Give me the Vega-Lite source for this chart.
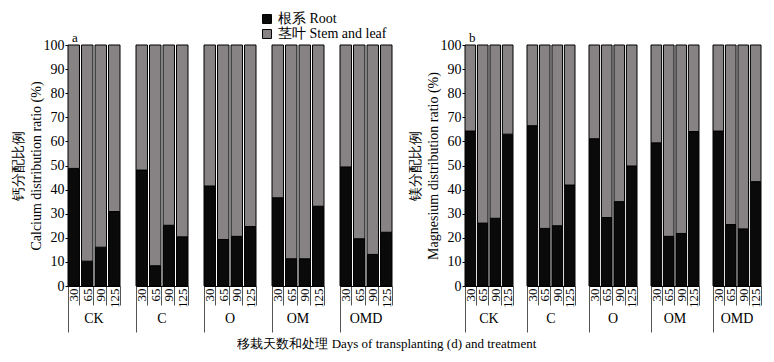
{
  "$schema": "https://vega.github.io/schema/vega-lite/v6.json",
  "background": "white",
  "padding": {"left": 11, "top": 12, "right": 4, "bottom": 5},
  "config": {
    "font": "Liberation Serif",
    "view": {"stroke": null},
    "axis": {"labelColor": "black", "titleColor": "black", "domainColor": "black", "tickColor": "black", "grid": false, "titleFontWeight": "normal"},
    "header": {"labelColor": "black"},
    "legend": {"labelColor": "black"}
  },
  "datasets": {
    "ca": [
      {"g": "CK", "d": "30", "root": 48.8, "stem": 51.2},
      {"g": "CK", "d": "65", "root": 10.3, "stem": 89.7},
      {"g": "CK", "d": "90", "root": 16.1, "stem": 83.9},
      {"g": "CK", "d": "125", "root": 30.9, "stem": 69.1},
      {"g": "C", "d": "30", "root": 48.1, "stem": 51.9},
      {"g": "C", "d": "65", "root": 8.4, "stem": 91.6},
      {"g": "C", "d": "90", "root": 25.2, "stem": 74.8},
      {"g": "C", "d": "125", "root": 20.4, "stem": 79.6},
      {"g": "O", "d": "30", "root": 41.5, "stem": 58.5},
      {"g": "O", "d": "65", "root": 19.3, "stem": 80.7},
      {"g": "O", "d": "90", "root": 20.6, "stem": 79.4},
      {"g": "O", "d": "125", "root": 24.7, "stem": 75.3},
      {"g": "OM", "d": "30", "root": 36.6, "stem": 63.4},
      {"g": "OM", "d": "65", "root": 11.3, "stem": 88.7},
      {"g": "OM", "d": "90", "root": 11.3, "stem": 88.7},
      {"g": "OM", "d": "125", "root": 33.1, "stem": 66.9},
      {"g": "OMD", "d": "30", "root": 49.4, "stem": 50.6},
      {"g": "OMD", "d": "65", "root": 19.6, "stem": 80.4},
      {"g": "OMD", "d": "90", "root": 13.1, "stem": 86.9},
      {"g": "OMD", "d": "125", "root": 22.3, "stem": 77.7}
    ],
    "mg": [
      {"g": "CK", "d": "30", "root": 64.3, "stem": 35.7},
      {"g": "CK", "d": "65", "root": 26.1, "stem": 73.9},
      {"g": "CK", "d": "90", "root": 28.1, "stem": 71.9},
      {"g": "CK", "d": "125", "root": 63.0, "stem": 37.0},
      {"g": "C", "d": "30", "root": 66.5, "stem": 33.5},
      {"g": "C", "d": "65", "root": 23.9, "stem": 76.1},
      {"g": "C", "d": "90", "root": 25.0, "stem": 75.0},
      {"g": "C", "d": "125", "root": 41.9, "stem": 58.1},
      {"g": "O", "d": "30", "root": 61.1, "stem": 38.9},
      {"g": "O", "d": "65", "root": 28.4, "stem": 71.6},
      {"g": "O", "d": "90", "root": 35.0, "stem": 65.0},
      {"g": "O", "d": "125", "root": 49.8, "stem": 50.2},
      {"g": "OM", "d": "30", "root": 59.4, "stem": 40.6},
      {"g": "OM", "d": "65", "root": 20.6, "stem": 79.4},
      {"g": "OM", "d": "90", "root": 21.8, "stem": 78.2},
      {"g": "OM", "d": "125", "root": 64.1, "stem": 35.9},
      {"g": "OMD", "d": "30", "root": 64.3, "stem": 35.7},
      {"g": "OMD", "d": "65", "root": 25.5, "stem": 74.5},
      {"g": "OMD", "d": "90", "root": 23.7, "stem": 76.3},
      {"g": "OMD", "d": "125", "root": 43.3, "stem": 56.7}
    ]
  },
  "title": {"text": "移栽天数和处理 Days of transplanting (d) and treatment", "orient": "bottom", "anchor": "middle", "fontSize": 13, "fontWeight": "normal", "color": "black", "offset": 5},
  "spacing": 14,
  "resolve": {"scale": {"color": "shared"}},
  "hconcat": [
    {
      "data": {"name": "ca"},
      "transform": [{"fold": ["root", "stem"], "as": ["part", "value"]}],
      "title": {"text": "a", "anchor": "start", "frame": "group", "fontSize": 13, "fontWeight": "normal", "color": "black", "offset": -7, "dx": 4},
      "facet": {"column": {"field": "g", "type": "nominal", "sort": ["CK", "C", "O", "OM", "OMD"], "header": {"labelOrient": "bottom", "title": null, "labelFontSize": 14, "labelPadding": -21, "labelFont": "Liberation Serif"}}},
      "spacing": 16,
      "bounds": "flush",
      "spec": {
        "width": 52,
        "height": 241,
        "mark": {"type": "bar", "stroke": "black", "strokeWidth": 1},
        "encoding": {
          "x": {"field": "d", "type": "ordinal", "sort": ["30", "65", "90", "125"], "scale": {"paddingInner": 0.15, "paddingOuter": 0},
            "axis": {"title": null, "labelAngle": 270, "labelAlign": "right", "labelBaseline": "middle", "labelFontSize": 13, "labelPadding": -17, "tickBand": "extent", "tickSize": {"condition": {"test": "datum.extra", "value": 46}, "value": 19}, "tickColor": "#555", "domain": true}},
          "y": {"field": "value", "type": "quantitative", "stack": "zero", "scale": {"domain": [0, 100]},
            "axis": {"title": ["钙分配比例", "Calcium distribution ratio (%)"], "titleFontSize": 14, "titleLineHeight": 18, "titleFontWeight": "normal", "titlePadding": 0, "values": [0,10,20,30,40,50,60,70,80,90,100], "labelOverlap": false, "labelFontSize": 14, "tickSize": 3, "labelPadding": 1}},
          "color": {"field": "part", "type": "nominal", "sort": ["root", "stem"], "scale": {"domain": ["root", "stem"], "range": ["#0a0a0a", "#878384"]},
            "legend": {"title": null, "orient": "none", "legendX": 192, "legendY": -33, "symbolType": "square", "symbolSize": 80, "symbolStrokeColor": "black", "symbolStrokeWidth": 1, "labelFontSize": 14, "rowPadding": 1, "labelExpr": "datum.label == 'root' ? '根系 Root' : '茎叶 Stem and leaf'"}},
          "order": {"field": "part", "sort": "ascending"}
        }
      }
    },
    {
      "data": {"name": "mg"},
      "transform": [{"fold": ["root", "stem"], "as": ["part", "value"]}],
      "title": {"text": "b", "anchor": "start", "frame": "group", "fontSize": 13, "fontWeight": "normal", "color": "black", "offset": -7, "dx": 4},
      "facet": {"column": {"field": "g", "type": "nominal", "sort": ["CK", "C", "O", "OM", "OMD"], "header": {"labelOrient": "bottom", "title": null, "labelFontSize": 14, "labelPadding": -21, "labelFont": "Liberation Serif"}}},
      "spacing": 14,
      "bounds": "flush",
      "spec": {
        "width": 48,
        "height": 241,
        "mark": {"type": "bar", "stroke": "black", "strokeWidth": 1},
        "encoding": {
          "x": {"field": "d", "type": "ordinal", "sort": ["30", "65", "90", "125"], "scale": {"paddingInner": 0.15, "paddingOuter": 0},
            "axis": {"title": null, "labelAngle": 270, "labelAlign": "right", "labelBaseline": "middle", "labelFontSize": 13, "labelPadding": -17, "tickBand": "extent", "tickSize": {"condition": {"test": "datum.extra", "value": 46}, "value": 19}, "tickColor": "#555", "domain": true}},
          "y": {"field": "value", "type": "quantitative", "stack": "zero", "scale": {"domain": [0, 100]},
            "axis": {"title": ["镁分配比例", "Magnesium distribution ratio (%)"], "titleFontSize": 14, "titleLineHeight": 18, "titleFontWeight": "normal", "titlePadding": 0, "values": [0,10,20,30,40,50,60,70,80,90,100], "labelOverlap": false, "labelFontSize": 14, "tickSize": 3, "labelPadding": 1}},
          "color": {"field": "part", "type": "nominal", "sort": ["root", "stem"], "scale": {"domain": ["root", "stem"], "range": ["#0a0a0a", "#878384"]}, "legend": null},
          "order": {"field": "part", "sort": "ascending"}
        }
      }
    }
  ]
}
